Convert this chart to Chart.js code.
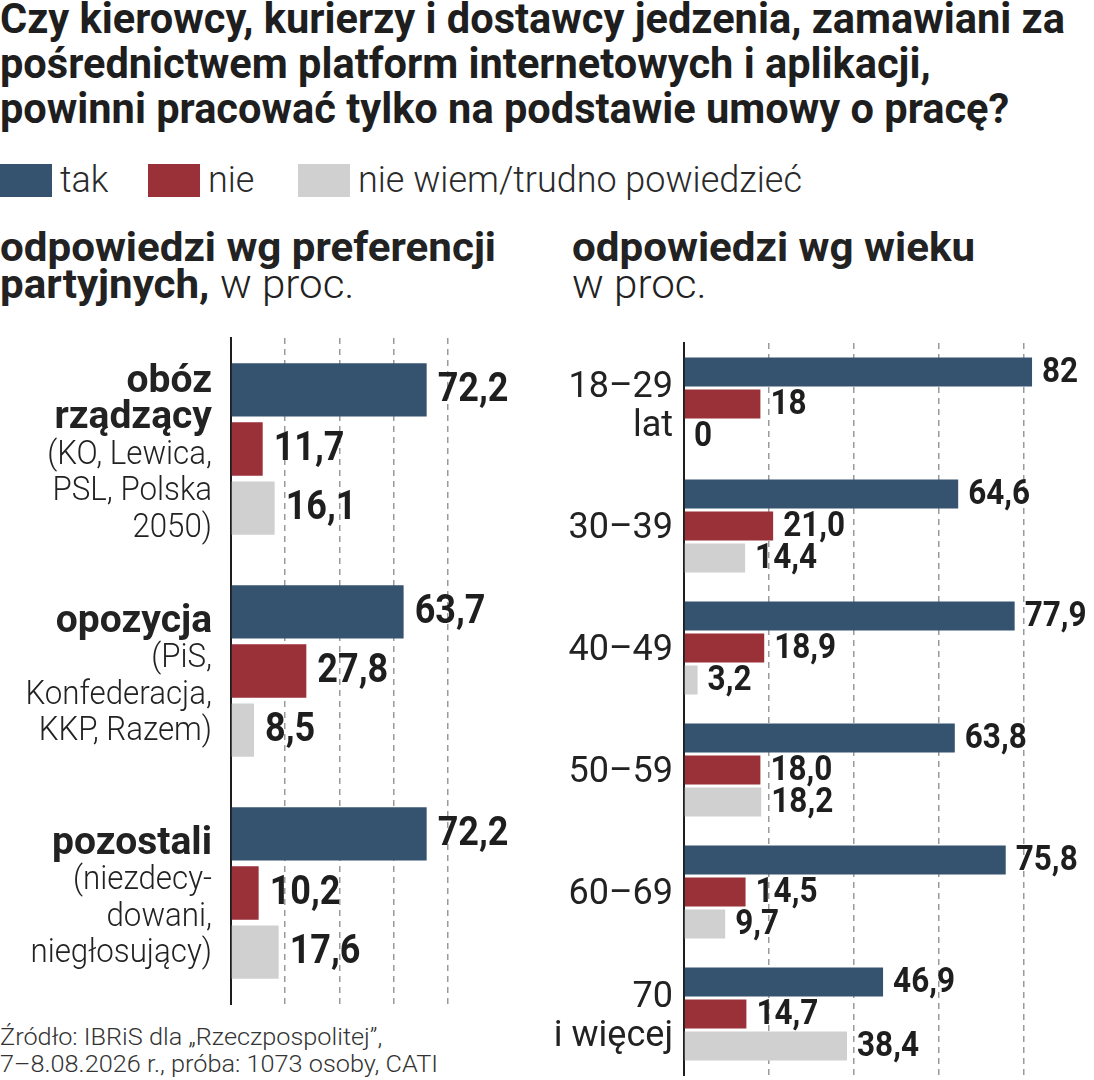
<!DOCTYPE html>
<html lang="pl">
<head>
<meta charset="utf-8">
<script src="https://cdn.jsdelivr.net/npm/chart.js@4.4.1/dist/chart.umd.min.js"></script>
<style>
  html, body { margin: 0; padding: 0; background: #fff; }
  body { width: 1094px; height: 1080px; position: relative; overflow: hidden;
         font-family: Roboto, "Noto Sans", sans-serif; color: #222; }
  .fit { position: absolute; white-space: nowrap; transform-origin: 0 0; }
  .fit span { display: inline-block; }
  .title { left: 0; top: -4px; font-size: 42px; line-height: 45px; font-weight: bold; color: #1e1e1e; }
  .legend-sw { position: absolute; top: 164px; width: 52px; height: 33px; }
  .legend-tx { top: 162px; font-size: 36px; line-height: 36px; color: #2a2a2a; font-weight: 300; }
  .sub { top: 229px; font-size: 40px; line-height: 37px; }
  .sub b { font-weight: bold; }
  .light { font-weight: 300; }
  .source { left: 0; top: 1024px; font-size: 23px; line-height: 27px; color: #333; font-weight: 300; }
</style>
</head>
<body>
<div class="fit title" data-target="1065"><span>Czy kierowcy, kurierzy i dostawcy jedzenia, zamawiani za</span><br><span>pośrednictwem platform internetowych i aplikacji,</span><br><span>powinni pracować tylko na podstawie umowy o pracę?</span></div>
<div id="legend"></div>
<div class="fit sub" style="left:0" data-target="496"><span><b>odpowiedzi wg preferencji</b></span><br><span><b>partyjnych,</b> <span class="light">w proc.</span></span></div>
<div class="fit sub" style="left:572px" data-target="403"><span><b>odpowiedzi wg wieku</b></span><br><span class="light">w proc.</span></div>
<div class="fit source" data-target="438" data-line="1"><span>Źródło: IBRiS dla „Rzeczpospolitej”,</span><br><span>7–8.08.2026 r., próba: 1073 osoby, CATI</span></div>
<div style="position:absolute;left:0;top:320px;width:560px;height:700px"><canvas id="partyChart"></canvas></div>
<div style="position:absolute;left:520px;top:320px;width:574px;height:760px"><canvas id="ageChart"></canvas></div>
<script>
// Serie i kolory
const seriesNames = ["tak", "nie", "nie wiem/trudno powiedzieć"];
const seriesColors = ["#35536f", "#9a3138", "#d0d0d0"];

// Preferencje partyjne (pierwsze wiersze etykiety pogrubione)
const partyLabels = [
    ["obóz", "rządzący", "(KO, Lewica,", "PSL, Polska", "2050)"],
    ["opozycja", "(PiS,", "Konfederacja,", "KKP, Razem)"],
    ["pozostali", "(niezdecy-", "dowani,", "niegłosujący)"],
];
const partyBoldLines = [2, 1, 1];
const partyTak = [72.2, 63.7, 72.2];
const partyNie = [11.7, 27.8, 10.2];
const partyNieWiem = [16.1, 8.5, 17.6];

// Wiek
const ageLabels = [
    ["18–29", "lat"],
    ["30–39"],
    ["40–49"],
    ["50–59"],
    ["60–69"],
    ["70", "i więcej"],
];
const ageDecimals = [0, 1, 1, 1, 1, 1];
const ageTak = [82, 64.6, 77.9, 63.8, 75.8, 46.9];
const ageNie = [18, 21.0, 18.9, 18.0, 14.5, 14.7];
const ageNieWiem = [0, 14.4, 3.2, 18.2, 9.7, 38.4];

const gridTicks = [20, 40, 60, 80];
const FONT = 'Roboto, "Noto Sans", sans-serif';

// Legenda HTML
const legend = document.getElementById("legend");
const legendX = [0, 148, 298];
seriesNames.forEach((name, i) => {
    legend.innerHTML += `<span class="legend-sw" style="left:${legendX[i]}px;background:${seriesColors[i]}"></span>` +
        `<div class="fit legend-tx" style="left:${legendX[i] + 60}px"><span>${name}</span></div>`;
});

// Zwężenie tekstu do szerokości z oryginału (font zastępczy ma inną szerokość)
function fitWidth(el, target, line) {
    const w = el.querySelectorAll(":scope > span")[line || 0].getBoundingClientRect().width;
    const s = target / w;
    el.style.transform = `scaleX(${s})`;
    return s;
}
document.querySelectorAll(".fit[data-target]").forEach((el) => fitWidth(el, +el.dataset.target, +(el.dataset.line || 0)));
const legendTx = legend.querySelectorAll(".legend-tx");
const legendScale = 444 / legendTx[2].firstChild.getBoundingClientRect().width;
legendTx.forEach((el) => { el.style.transform = `scaleX(${legendScale})`; });

// Wartości przy słupkach
const valueLabels = {
    id: "valueLabels",
    afterDatasetsDraw(chart, args, opts) {
        const ctx = chart.ctx;
        chart.data.datasets.forEach((ds, di) => {
            chart.getDatasetMeta(di).data.forEach((bar, i) => {
                const dec = opts.decimals ? opts.decimals[i] : 1;
                const txt = ds.data[i].toFixed(dec).replace(".", ",");
                ctx.save();
                ctx.fillStyle = "#1e1e1e";
                ctx.font = `bold ${opts.size}px ${FONT}`;
                ctx.textBaseline = "middle";
                ctx.textAlign = "left";
                ctx.translate(bar.x + opts.gap, bar.y + 1);
                ctx.scale(opts.squeeze, 1);
                ctx.fillText(txt, 0, 0);
                ctx.restore();
            });
        });
    },
};

// Etykiety kategorii (mieszane pogrubienie)
const catLabels = {
    id: "catLabels",
    afterDraw(chart, args, opts) {
        const ctx = chart.ctx;
        const y = chart.scales.y;
        opts.labels.forEach((lines, i) => {
            const cy = y.getPixelForValue(i) + opts.offset;
            const top = cy - (lines.length - 1) * opts.lineHeight / 2;
            lines.forEach((line, j) => {
                const bold = opts.bold && j < opts.bold[i];
                ctx.save();
                ctx.fillStyle = "#222";
                ctx.textAlign = "right";
                ctx.textBaseline = "middle";
                ctx.font = bold ? `bold ${opts.boldSize}px ${FONT}` : `${opts.weight} ${opts.size}px ${FONT}`;
                ctx.translate(chart.chartArea.left - opts.gap, top + j * opts.lineHeight);
                ctx.scale(bold ? opts.boldSqueeze : opts.squeeze, 1);
                ctx.fillText(line, 0, 0);
                ctx.restore();
            });
        });
    },
};

function makeChart(id, labels, data, cfg) {
    return new Chart(document.getElementById(id), {
        type: "bar",
        data: {
            labels: labels.map((l) => l.join(" ")),
            datasets: data.map((d, i) => ({
                label: seriesNames[i],
                data: d,
                backgroundColor: seriesColors[i],
                categoryPercentage: cfg.catPct,
                barPercentage: cfg.barPct,
            })),
        },
        options: {
            indexAxis: "y",
            responsive: true,
            maintainAspectRatio: false,
            animation: false,
            layout: { padding: cfg.padding },
            plugins: {
                legend: { display: false },
                tooltip: { enabled: false },
                valueLabels: { size: cfg.valueSize, gap: cfg.valueGap, decimals: cfg.decimals, squeeze: 0.9 },
                catLabels: cfg.catLabels,
            },
            scales: {
                x: {
                    min: 0,
                    max: cfg.max,
                    ticks: { display: false, stepSize: 20 },
                    border: { display: false, dash: [6, 5] },
                    grid: {
                        drawTicks: false,
                        lineWidth: 1.5,
                        color: (c) => (gridTicks.includes(c.tick && c.tick.value) ? "#9a9a9a" : "rgba(0,0,0,0)"),
                    },
                    afterFit: (s) => { s.height = 0; },
                },
                y: {
                    ticks: { display: false },
                    grid: { display: false, drawTicks: false },
                    border: { display: true, color: "#1e1e1e", width: 2 },
                    afterFit: (s) => { s.width = 0; },
                },
            },
        },
        plugins: [valueLabels, catLabels],
    });
}

makeChart("partyChart", partyLabels, [partyTak, partyNie, partyNieWiem], {
    max: 100,
    catPct: 0.8,
    barPct: 0.9,
    padding: { left: 231, right: 58, top: 18, bottom: 16 },
    valueSize: 40,
    valueGap: 11,
    catLabels: { labels: partyLabels, bold: partyBoldLines, size: 34, weight: 300, boldSize: 39, lineHeight: 36.5, offset: 6, gap: 19, squeeze: 0.92, boldSqueeze: 1 },
});

makeChart("ageChart", ageLabels, [ageTak, ageNie, ageNieWiem], {
    max: 90,
    catPct: 0.787,
    barPct: 0.906,
    padding: { left: 164, right: 28, top: 23, bottom: 5 },
    valueSize: 35,
    valueGap: 10,
    decimals: ageDecimals,
    catLabels: { labels: ageLabels, size: 36, weight: 400, lineHeight: 39, offset: 3, gap: 11, squeeze: 1 },
});
</script>
</body>
</html>
